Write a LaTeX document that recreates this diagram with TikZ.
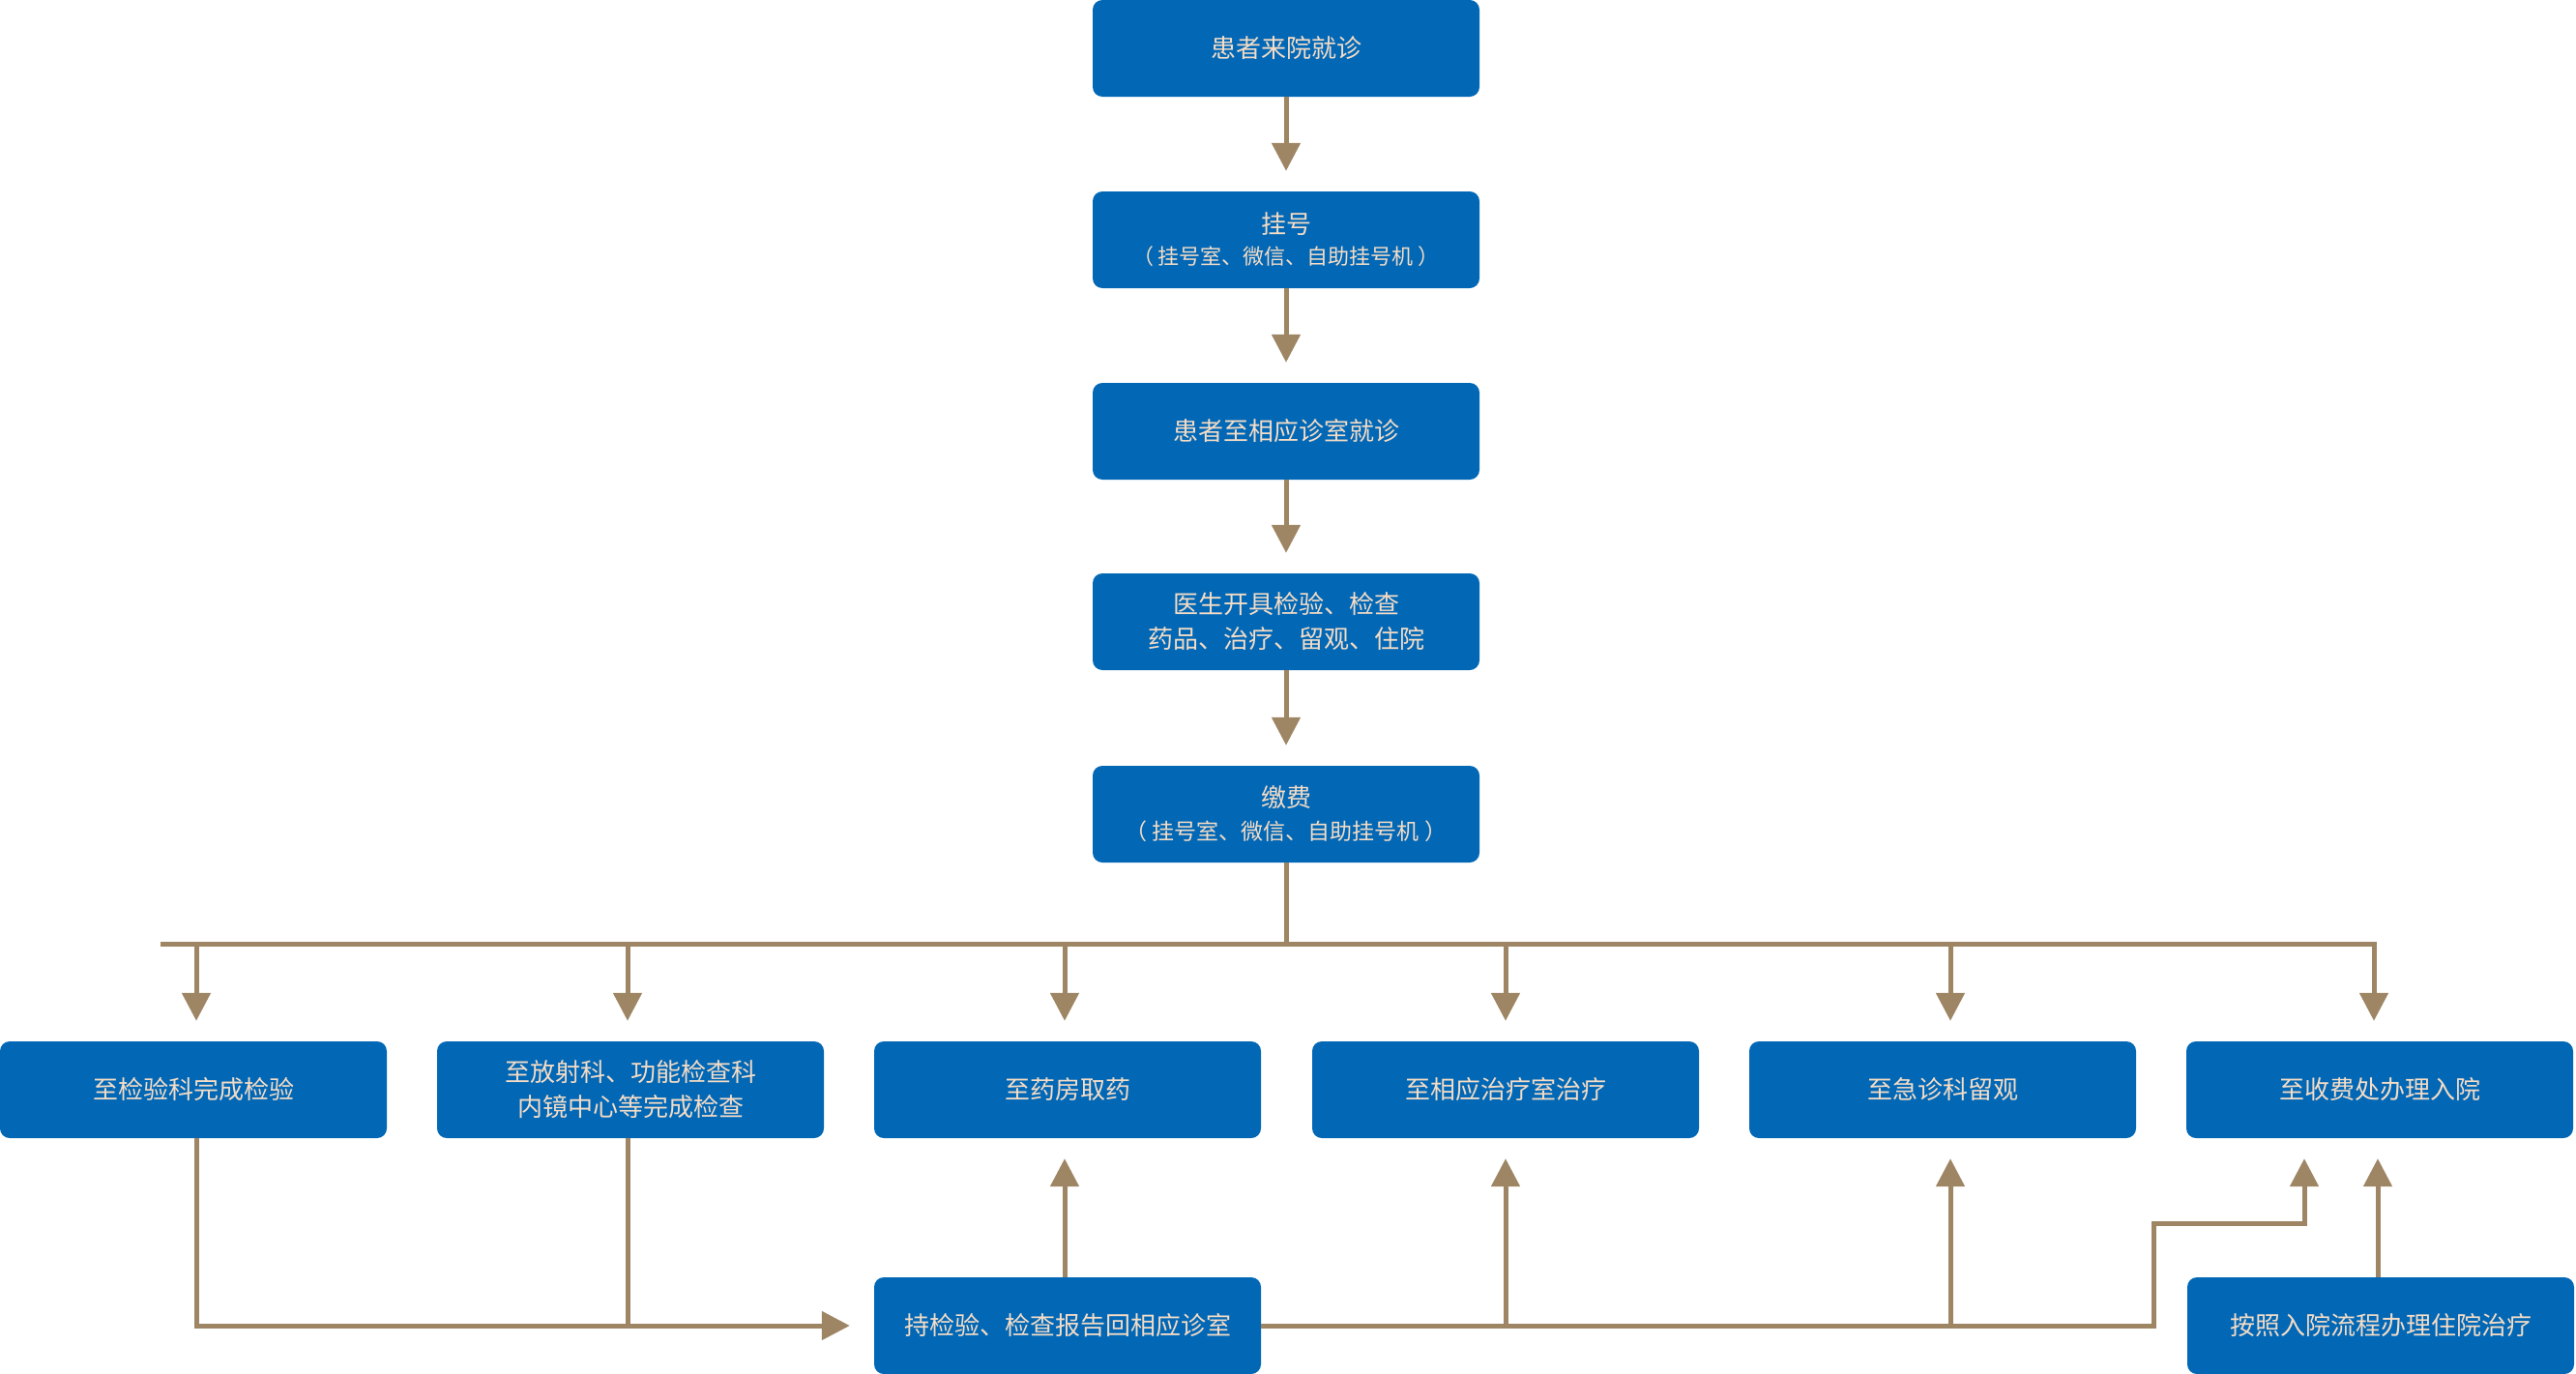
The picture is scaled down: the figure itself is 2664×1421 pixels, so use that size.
\documentclass[tikz,border=0pt]{standalone}
\usepackage{fontspec}
\setmainfont{Noto Sans CJK SC}
\usetikzlibrary{arrows.meta,calc}
\definecolor{boxblue}{HTML}{0268B6}
\definecolor{txtpeach}{HTML}{F4DCC6}
\definecolor{linebrown}{HTML}{9E8664}
\tikzset{
  box/.style={draw=none, fill=boxblue, rounded corners=10pt, minimum width=400pt, minimum height=100pt,
    inner sep=0pt, text=txtpeach, align=center, font=\fontsize{26}{36}\selectfont},
  conn/.style={draw=linebrown, line width=5pt},
  arr/.style={conn, -{Triangle[width=29pt,length=29pt]}, shorten >=21pt},
}
\newcommand{\subtxt}[1]{{\fontsize{22}{30}\selectfont #1}}
\begin{document}
\begin{tikzpicture}[x=1pt,y=-1pt]
\useasboundingbox (0,0) rectangle (2664,1421);
% column
\node[box] (n1) at (1330,50) {患者来院就诊};
\node[box] (n2) at (1330,248) {挂号\\[-4pt]\subtxt{（ 挂号室、微信、自助挂号机 ）}};
\node[box] (n3) at (1330,446) {患者至相应诊室就诊};
\node[box] (n4) at (1330,643) {医生开具检验、检查\\药品、治疗、留观、住院};
\node[box] (n5) at (1330,842) {缴费\\[-2pt]{\fontsize{23}{30}\selectfont （ 挂号室、微信、自助挂号机 ）}};
% row
\node[box] (c1) at (200,1127) {至检验科完成检验};
\node[box] (c2) at (652,1127) {至放射科、功能检查科\\内镜中心等完成检查};
\node[box] (c3) at (1104,1127) {至药房取药};
\node[box] (c4) at (1557,1127) {至相应治疗室治疗};
\node[box] (c5) at (2009,1127) {至急诊科留观};
\node[box] (c6) at (2461,1127) {至收费处办理入院};
% bottom
\node[box] (rep) at (1104,1371) {持检验、检查报告回相应诊室};
\node[box] (adm) at (2462,1371) {按照入院流程办理住院治疗};
\coordinate (busL) at (166,976);
\coordinate (stepX) at (2227,1265);
% arrows down the column
\draw[arr] (n1) -- (n2);
\draw[arr] (n2) -- (n3);
\draw[arr] (n3) -- (n4);
\draw[arr] (n4) -- (n5);
% bus
\draw[conn] (n5.south) -- (n5.south |- busL);
\draw[arr] (busL) -- ([xshift=-6pt]c6.north |- busL) -- ([xshift=-6pt]c6.north);
\draw[arr] ([xshift=3pt]c1.north |- busL) -- ([xshift=3pt]c1.north);
\draw[arr] ([xshift=-3pt]c2.north |- busL) -- ([xshift=-3pt]c2.north);
\draw[arr] ([xshift=-3pt]c3.north |- busL) -- ([xshift=-3pt]c3.north);
\draw[arr] (c4.north |- busL) -- (c4.north);
\draw[arr] ([xshift=8pt]c5.north |- busL) -- ([xshift=8pt]c5.north);
% bottom connections
\draw[arr, shorten >=25pt] ([xshift=3pt]c1.south) |- (rep.west);
\draw[conn] ([xshift=-3pt]c2.south) -- ([xshift=-3pt]c2.south |- rep.west);
\draw[arr] ([xshift=-3pt]rep.north) -- ([xshift=-3pt]c3.south);
\draw[arr] (rep.east) -- (rep.east -| stepX) -- (stepX) -- ([xshift=-78pt]c6.south |- stepX) -- ([xshift=-78pt]c6.south);
\draw[arr] (c4.south |- rep.east) -- (c4.south);
\draw[arr] ([xshift=8pt]c5.south |- rep.east) -- ([xshift=8pt]c5.south);
\draw[arr] ([xshift=-3pt]adm.north) -- ([xshift=-3pt]adm.north |- c6.south);
\end{tikzpicture}
\end{document}
